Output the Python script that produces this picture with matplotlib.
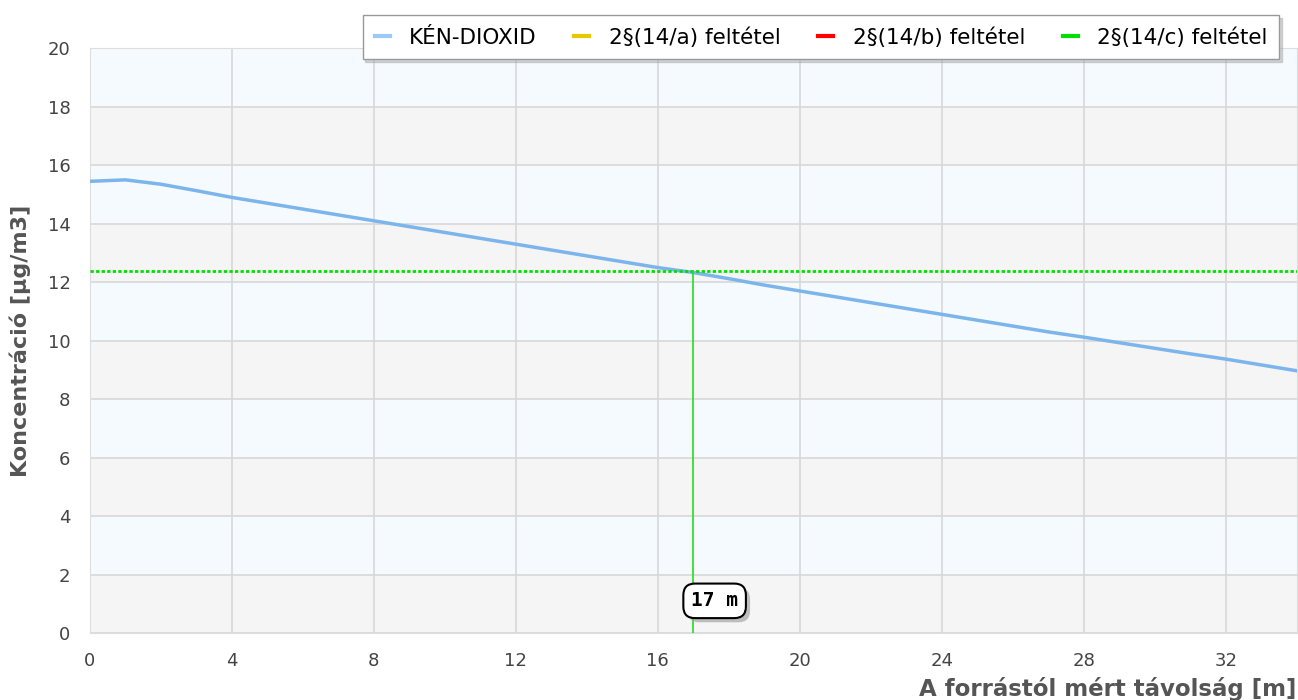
import matplotlib
matplotlib.use("Agg")
import matplotlib.pyplot as plt
import matplotlib.patheffects as pe
from matplotlib.lines import Line2D

# distance [m] and SO2 concentration [ug/m3]
dist = list(range(0, 35))
conc = [15.45, 15.5, 15.35, 15.13, 14.9, 14.7, 14.5, 14.3, 14.1, 13.9,
        13.7, 13.5, 13.3, 13.1, 12.9, 12.7, 12.5, 12.33, 12.12, 11.9,
        11.7, 11.5, 11.3, 11.1, 10.9, 10.7, 10.5, 10.3, 10.12, 9.93,
        9.74, 9.55, 9.37, 9.17, 8.97]
limit_c = 12.38
cross_x = 17
cross_label = "17 m"

series_names = ["KÉN-DIOXID", "2§(14/a) feltétel", "2§(14/b) feltétel", "2§(14/c) feltétel"]
series_colors = ["#9ccaf5", "#e8c800", "#ff0000", "#00e000"]

fig = plt.figure(figsize=(12.98, 7), dpi=100)
ax = fig.add_axes([0.0693, 0.0957, 0.9297, 0.8353])

# alternating bands
for i in range(10):
    ax.axhspan(2 * i, 2 * i + 2, color="#f5f5f5" if i % 2 == 0 else "#f5faff", zorder=0, lw=0)

ax.set_xlim(0, 34)
ax.set_ylim(0, 20)
ax.set_xticks(range(0, 34, 4))
ax.set_yticks(range(0, 21, 2))
ax.grid(True, color="#d8d8d8", lw=1.2, zorder=1)
ax.tick_params(length=0, labelsize=13, labelcolor="#444444")
ax.tick_params(axis="x", pad=14)
ax.tick_params(axis="y", pad=14)
for s in ax.spines.values():
    s.set_color("#dddddd")

ax.plot(dist, conc, color="#7cb5ec", lw=2.5, zorder=3)
ax.axhline(limit_c, color=series_colors[3], lw=2, ls=(0, (1.2, 0.8)), zorder=4)
ax.plot([cross_x, cross_x], [0, limit_c], color="#22dd22", lw=1.2, zorder=4)

ax.text(cross_x + 0.6, 1.1, cross_label, family="DejaVu Sans Mono", weight="bold",
        fontsize=14, ha="center", va="center", zorder=6,
        bbox=dict(boxstyle="round,pad=0.4,rounding_size=0.6", fc="white", ec="black", lw=1.5,
                  path_effects=[pe.SimplePatchShadow(offset=(3, -3), shadow_rgbFace="#999999", alpha=0.6),
                                pe.Normal()]))

ax.set_ylabel("Koncentráció [µg/m3]", fontsize=16, weight="bold", color="#555555", labelpad=12)
ax.set_xlabel("A forrástól mért távolság [m]", fontsize=16.5, weight="bold", color="#555555")
ax.xaxis.set_label_coords(1.0, -0.075)
ax.xaxis.label.set_ha("right")

handles = [Line2D([], [], color=c, lw=3) for c in series_colors]
leg = ax.legend(handles, series_names, ncol=4, loc="upper right", bbox_to_anchor=(0.9945, 1.075),
                fontsize=15.5, frameon=True, fancybox=False, shadow={"ox": 2, "oy": -2, "color": "#aaaaaa"},
                handlelength=0.7, columnspacing=1.75, handletextpad=0.9, borderpad=0.55)
leg.get_frame().set_edgecolor("#999999")
leg.set_zorder(10)

fig.savefig("out.png", dpi=100)
